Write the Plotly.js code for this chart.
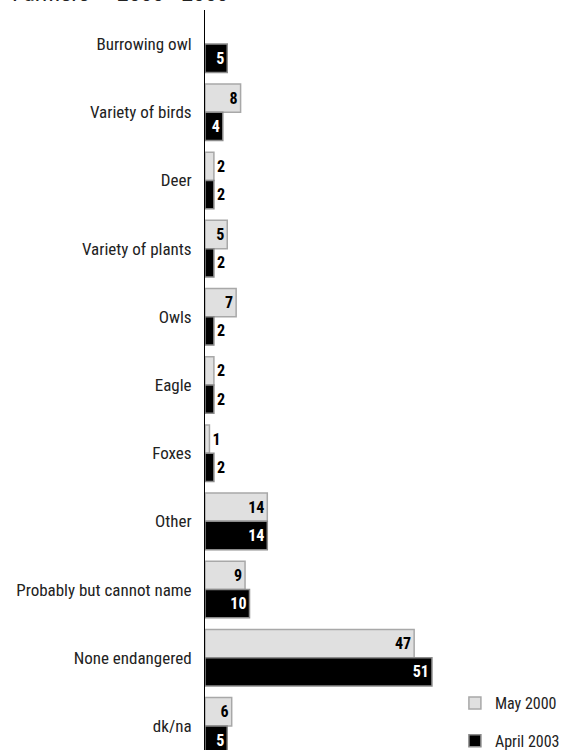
<!DOCTYPE html>
<html>
<head>
<meta charset="utf-8">
<script src="https://cdn.plot.ly/plotly-3.0.1.min.js"></script>
<style>
html, body { margin: 0; padding: 0; overflow: hidden; background: #fff; }
#chart { width: 569px; height: 764px; }
</style>
</head>
<body>
<div id="chart"></div>
<script>
const categories = ["Burrowing owl", "Variety of birds", "Deer", "Variety of plants", "Owls", "Eagle", "Foxes", "Other", "Probably but cannot name", "None endangered", "dk/na"];
const may2000 = [null, 8, 2, 5, 7, 2, 1, 14, 9, 47, 6];
const april2003 = [5, 4, 2, 2, 2, 2, 2, 14, 10, 51, 5];
const seriesNames = ["May 2000", "April 2003"];
const titleText = "Farmers \u2014 2000 - 2003";

const FONT = '"Roboto Condensed", "Liberation Sans Narrow", "Arial Narrow", "DejaVu Sans Condensed", sans-serif';

const traces = [
  {
    type: 'bar', orientation: 'h', name: seriesNames[0], legendgroup: 'a',
    y: categories, x: may2000,
    text: may2000.map(v => v == null ? '' : String(v)),
    textposition: 'auto', insidetextanchor: 'end', constraintext: 'none',
    marker: { color: '#e0e0e0', line: { color: '#a8a8a8', width: 1.5 } },
    insidetextfont: { family: FONT, size: 16, color: '#000', weight: 'bold' },
    outsidetextfont: { family: FONT, size: 16, color: '#000', weight: 'bold' },
    hoverinfo: 'x+name'
  },
  {
    type: 'bar', orientation: 'h', name: seriesNames[1], legendgroup: 'b',
    y: categories, x: april2003,
    text: april2003.map(v => String(v)),
    textposition: 'auto', insidetextanchor: 'end', constraintext: 'none',
    marker: { color: '#000000', line: { color: '#8c8c8c', width: 1.5 } },
    insidetextfont: { family: FONT, size: 16, color: '#fff', weight: 'bold' },
    outsidetextfont: { family: FONT, size: 16, color: '#000', weight: 'bold' },
    hoverinfo: 'x+name'
  }
];

const layout = {
  width: 569, height: 764,
  margin: { l: 205, r: 8, t: 10, b: 4 },
  paper_bgcolor: '#fff', plot_bgcolor: '#fff',
  font: { family: FONT, size: 17, color: '#222' },
  annotations: [{
    text: titleText, showarrow: false,
    xref: 'paper', x: -195 / 356, xanchor: 'left',
    yref: 'paper', y: 1, yanchor: 'bottom', yshift: 1,
    font: { family: FONT, size: 24, color: '#222' }
  }],
  barmode: 'group', bargap: 0.17, bargroupgap: 0,
  showlegend: true,
  legend: { x: 0.702, xanchor: 'left', y: 0.0987, yanchor: 'top', traceorder: 'grouped', tracegroupgap: 14, font: { family: FONT, size: 16, color: '#222' }, bgcolor: 'rgba(0,0,0,0)' },
  xaxis: { range: [0, 80], showgrid: false, zeroline: false, showticklabels: false, showline: false, ticks: '', fixedrange: true },
  yaxis: { autorange: 'reversed', type: 'category', showgrid: false, zeroline: false, showline: true, linecolor: '#000', linewidth: 1, ticks: 'outside', ticklen: 9, tickcolor: 'rgba(0,0,0,0)', tickfont: { family: FONT, size: 17, color: '#222' }, fixedrange: true }
};

Plotly.newPlot('chart', traces, layout, { displayModeBar: false, staticPlot: true });
</script>
</body>
</html>
